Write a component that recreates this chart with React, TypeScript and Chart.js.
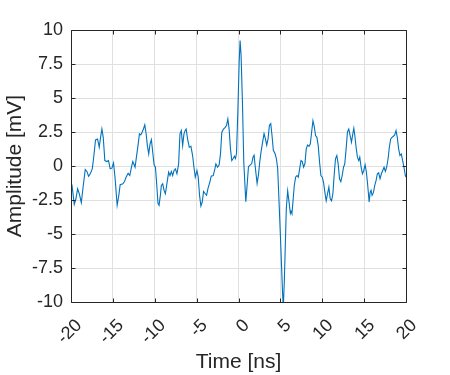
import React, { useEffect, useRef } from "react";
import { Chart, registerables } from "chart.js";

Chart.register(...registerables);

const timeNs = [
  -20.0, -19.88, -19.61, -19.41, -19.21, -19.01, -18.77, -18.58, -18.3, -18.1,
  -17.9, -17.7, -17.46, -17.31, -17.07, -16.83, -16.63, -16.47, -16.31, -16.15,
  -15.96, -15.72, -15.52, -15.32, -15.12, -14.92, -14.73, -14.49, -14.29, -14.13,
  -13.81, -13.61, -13.42, -13.18, -12.98, -12.78, -12.62, -12.46, -12.35, -12.19,
  -11.99, -11.83, -11.67, -11.51, -11.35, -11.19, -11.04, -10.88, -10.72, -10.56,
  -10.4, -10.24, -10.08, -9.92, -9.77, -9.61, -9.49, -9.33, -9.21, -9.05,
  -8.89, -8.73, -8.58, -8.34, -8.18, -8.02, -7.86, -7.7, -7.54, -7.35,
  -7.15, -6.99, -6.83, -6.67, -6.51, -6.38, -6.25, -6.08, -5.88, -5.68,
  -5.48, -5.32, -5.16, -4.96, -4.81, -4.65, -4.49, -4.33, -4.17, -3.97,
  -3.81, -3.65, -3.42, -3.26, -3.02, -2.86, -2.7, -2.5, -2.31, -2.15,
  -1.99, -1.79, -1.59, -1.43, -1.27, -1.12, -0.96, -0.8, -0.64, -0.48,
  -0.36, -0.24, -0.08, 0.08, 0.19, 0.31, 0.47, 0.63, 0.87, 1.03,
  1.19, 1.38, 1.58, 1.74, 1.86, 2.02, 2.22, 2.38, 2.54, 2.69,
  2.85, 3.05, 3.21, 3.37, 3.53, 3.69, 3.85, 4.0, 4.16, 4.36,
  4.52, 4.68, 4.84, 5.0, 5.15, 5.27, 5.35, 5.47, 5.59, 5.71,
  5.87, 6.03, 6.19, 6.27, 6.38, 6.5, 6.66, 6.82, 6.98, 7.14,
  7.3, 7.46, 7.62, 7.77, 7.93, 8.09, 8.25, 8.41, 8.57, 8.73,
  8.89, 9.04, 9.2, 9.36, 9.52, 9.68, 9.84, 10.0, 10.15, 10.31,
  10.47, 10.63, 10.79, 10.95, 11.11, 11.27, 11.42, 11.58, 11.74, 11.9,
  12.06, 12.22, 12.38, 12.54, 12.69, 12.85, 13.01, 13.17, 13.33, 13.49,
  13.65, 13.77, 13.89, 14.04, 14.2, 14.36, 14.48, 14.64, 14.8, 14.96,
  15.12, 15.27, 15.43, 15.6, 15.71, 15.83, 15.95, 16.11, 16.27, 16.43,
  16.58, 16.74, 16.9, 17.06, 17.22, 17.38, 17.54, 17.69, 17.86, 18.01,
  18.17, 18.33, 18.49, 18.65, 18.81, 18.96, 19.12, 19.28, 19.44, 19.6,
  19.76, 19.92, 20.0,
];

const amplitudeMv = [
  -1.18, -1.43, -2.82, -2.41, -1.67, -2.04, -2.7, -1.67, -0.26, -0.4,
  -0.75, -0.57, -0.21, 0.53, 1.92, 1.99, 1.38, 2.11, 2.72, 2.11,
  0.4, 0.33, 0.4, -0.21, -0.16, 0.23, -0.94, -2.89, -2.16, -1.38,
  -1.31, -1.14, -0.82, -0.53, -0.7, -0.09, 0.33, 0.09, -0.09, 0.65,
  1.55, 2.36, 2.28, 2.48, 2.72, 3.02, 2.43, 1.5, 0.89, 1.62,
  1.94, 1.01, 0.09, -0.09, -1.31, -2.77, -2.89, -2.16, -1.43, -1.31,
  -1.79, -2.04, -1.43, -0.45, -0.7, -0.4, -0.7, -0.33, -0.21, -0.57,
  0.16, 2.36, 2.6, 1.5, 2.36, 2.6, 2.72, 2.0, 1.38, 1.45,
  0.77, -0.09, -0.82, -0.33, -0.82, -2.16, -2.94, -2.65, -1.87, -2.04,
  -2.16, -1.67, -1.18, -0.75, -0.7, -0.33, 0.16, -0.09, 0.09, 0.89,
  2.48, 2.72, 2.84, 2.97, 3.46, 2.72, 1.26, 0.4, 0.55, 0.72,
  0.55, 0.92, 3.97, 7.63, 9.22, 8.12, 4.7, 0.31, -2.62, -1.4,
  -0.06, 0.06, 0.18, 0.67, 0.79, -0.18, -1.28, -0.67, 0.31, 1.04,
  1.65, 2.38, 2.01, 1.53, 2.01, 2.99, 3.11, 2.26, 1.16, 0.92,
  0.55, -0.18, -2.62, -5.07, -7.51, -9.46, -10.4, -8.5, -5.8, -3.11,
  -1.84, -2.62, -3.48, -3.33, -3.5, -2.65, -1.43, -0.82, -0.7, -0.82,
  -0.21, 0.4, 0.33, -0.09, 0.16, 1.26, 1.55, 1.45, 1.62, 2.48,
  3.33, 2.92, 2.24, 2.11, 1.5, 0.28, -0.7, -0.82, -1.18, -1.92,
  -2.56, -2.04, -1.55, -2.41, -2.56, -2.04, -0.7, 0.53, 0.77, 0.16,
  -0.94, -1.14, -0.7, -0.09, 0.16, 1.26, 2.5, 2.72, 2.24, 1.75,
  2.36, 2.77, 2.24, 1.38, 0.65, 0.4, 0.65, -0.09, -0.57, -0.33,
  0.09, -0.45, -1.43, -2.65, -1.96, -1.79, -2.16, -1.96, -1.43, -1.06,
  -0.57, -0.5, -0.94, -0.57, -0.33, -0.09, -0.4, -0.09, 0.53, 1.38,
  1.99, 2.11, 2.19, 2.28, 2.6, 2.11, 1.26, 0.77, 0.89, 0.4,
  -0.09, -0.7, -0.82,
];

const xTickValues = [-20, -15, -10, -5, 0, 5, 10, 15, 20];
const yTickValues = [-10, -7.5, -5, -2.5, 0, 2.5, 5, 7.5, 10];
const xTitle = "Time [ns]";
const yTitle = "Amplitude [mV]";

const TEXT = "#262626";
const FONT = "'Liberation Sans', Arial, Helvetica, sans-serif";

const boxPlugin = {
  id: "matlabBox",
  afterDatasetsDraw(chart: any) {
    const { ctx, chartArea, scales } = chart;
    const { left, right, top, bottom } = chartArea;
    const L = Math.round(left) + 0.5;
    const R = Math.round(right) + 0.5;
    const T = Math.round(top) + 0.5;
    const B = Math.round(bottom) + 0.5;
    ctx.save();
    ctx.strokeStyle = TEXT;
    ctx.lineWidth = 1;
    ctx.beginPath();
    ctx.rect(L, T, R - L, B - T);
    const len = 4;
    xTickValues.forEach((v) => {
      const px = Math.round(scales.x.getPixelForValue(v)) + 0.5;
      ctx.moveTo(px, B);
      ctx.lineTo(px, B - len);
      ctx.moveTo(px, T);
      ctx.lineTo(px, T + len);
    });
    yTickValues.forEach((v) => {
      const py = Math.round(scales.y.getPixelForValue(v)) + 0.5;
      ctx.moveTo(L, py);
      ctx.lineTo(L + len, py);
      ctx.moveTo(R, py);
      ctx.lineTo(R - len, py);
    });
    ctx.stroke();
    ctx.restore();
  },
};

export default function App() {
  const ref = useRef<HTMLCanvasElement>(null);

  useEffect(() => {
    if (!ref.current) return;
    const points = timeNs.map((t, i) => ({ x: t, y: amplitudeMv[i] }));
    const chart = new Chart(ref.current, {
      type: "line",
      data: {
        datasets: [
          {
            data: points,
            borderColor: "#0072BD",
            borderWidth: 1.1,
            pointRadius: 0,
            fill: false,
            tension: 0,
          },
        ],
      },
      options: {
        animation: false,
        responsive: false,
        maintainAspectRatio: false,
        parsing: false,
        normalized: true,
        layout: { padding: { left: 0, top: 30, right: 44, bottom: 0 } },
        plugins: {
          legend: { display: false },
          tooltip: { enabled: false },
        },
        scales: {
          x: {
            type: "linear",
            min: -20,
            max: 20,
            afterBuildTicks: (scale: any) => {
              scale.ticks = xTickValues.map((v) => ({ value: v }));
            },
            afterFit: (scale: any) => {
              scale.height = 73;
            },
            ticks: {
              autoSkip: false,
              minRotation: 45,
              maxRotation: 45,
              padding: 13,
              labelOffset: 8,
              color: TEXT,
              font: { family: FONT, size: 18 },
              callback: (v: any) => String(v),
            },
            grid: { color: "#E0E0E0", drawTicks: false, lineWidth: 1 },
            border: { display: false },
            title: {
              display: true,
              text: xTitle,
              color: TEXT,
              font: { family: FONT, size: 21 },
              padding: { top: 0, bottom: 0 },
            },
          },
          y: {
            type: "linear",
            min: -10,
            max: 10,
            afterBuildTicks: (scale: any) => {
              scale.ticks = yTickValues.map((v) => ({ value: v }));
            },
            afterFit: (scale: any) => {
              scale.width = 71;
            },
            ticks: {
              autoSkip: false,
              padding: 8,
              color: TEXT,
              font: { family: FONT, size: 18 },
              callback: (v: any) => String(v),
            },
            grid: { color: "#E0E0E0", drawTicks: false, lineWidth: 1 },
            border: { display: false },
            title: {
              display: true,
              text: yTitle,
              color: TEXT,
              font: { family: FONT, size: 21 },
              padding: { top: 3, bottom: 0 },
            },
          },
        },
      },
      plugins: [boxPlugin],
    });
    return () => chart.destroy();
  }, []);

  return (
    <div
      style={{
        position: "absolute",
        left: 0,
        top: 0,
        width: 450,
        height: 375,
        background: "#fff",
      }}
    >
      <canvas ref={ref} width={450} height={375} style={{ display: "block" }} />
    </div>
  );
}
